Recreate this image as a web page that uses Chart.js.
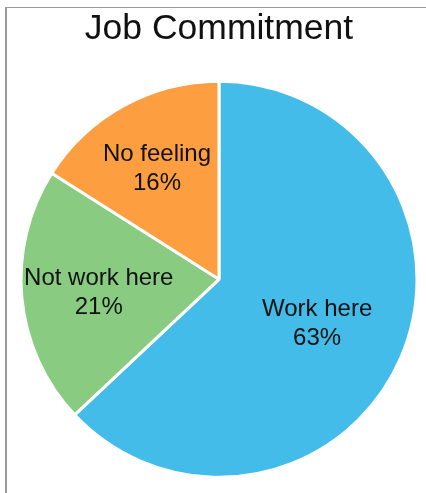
<!DOCTYPE html>
<html>
<head>
<meta charset="utf-8">
<script src="https://cdn.jsdelivr.net/npm/chart.js@4"></script>
<style>
  html, body { margin: 0; padding: 0; background: #fff; }
  #wrap { position: relative; width: 426px; height: 493px; }
  #frame { position: absolute; left: 5px; top: 7px; right: 0; bottom: 0;
           border-left: 2px solid #9a9a9a; border-top: 1px solid #9a9a9a; }
  canvas { position: absolute; left: 0; top: 0; }
</style>
</head>
<body>
<div id="wrap">
  <div id="frame"></div>
  <canvas id="chart" width="426" height="493"></canvas>
</div>
<script>
// Job commitment survey shares
const categories = ["Work here", "Not work here", "No feeling"];
const shares = [63, 21, 16];
const sliceColors = ["#43bcea", "#88cb81", "#fd9e40"];

// how far out along each slice's middle the label sits (fraction of radius)
const labelDepth = [0.54, 0.61, 0.65];

const FONT = "'Liberation Sans', Arial, Helvetica, sans-serif";

const sliceLabels = {
  id: "sliceLabels",
  afterDatasetsDraw(chart) {
    const ctx = chart.ctx;
    const meta = chart.getDatasetMeta(0);
    ctx.save();
    ctx.font = "24px " + FONT;
    ctx.fillStyle = "#111";
    ctx.textAlign = "center";
    ctx.textBaseline = "middle";
    meta.data.forEach((arc, i) => {
      const p = arc.getProps(["x", "y", "startAngle", "endAngle", "outerRadius"], true);
      const mid = (p.startAngle + p.endAngle) / 2;
      const r = p.outerRadius * labelDepth[i];
      const cx = p.x + Math.cos(mid) * r;
      const cy = p.y + Math.sin(mid) * r;
      ctx.fillText(categories[i], cx, cy - 12);
      ctx.fillText(shares[i] + "%", cx, cy + 17);
    });
    ctx.restore();
  }
};

new Chart(document.getElementById("chart"), {
  type: "pie",
  data: {
    labels: categories,
    datasets: [{
      data: shares,
      backgroundColor: sliceColors,
      borderColor: "#ffffff",
      borderWidth: 3
    }]
  },
  options: {
    responsive: false,
    animation: false,
    radius: 198,
    layout: { padding: { left: 21, right: 9, top: 0, bottom: 16 } },
    plugins: {
      legend: { display: false },
      tooltip: { enabled: false },
      title: {
        display: true,
        text: "Job Commitment",
        color: "#111",
        font: { family: FONT, size: 35.5, weight: "normal", lineHeight: 1.2 },
        padding: { top: 8, bottom: 31 }
      }
    }
  },
  plugins: [sliceLabels]
});
</script>
</body>
</html>
